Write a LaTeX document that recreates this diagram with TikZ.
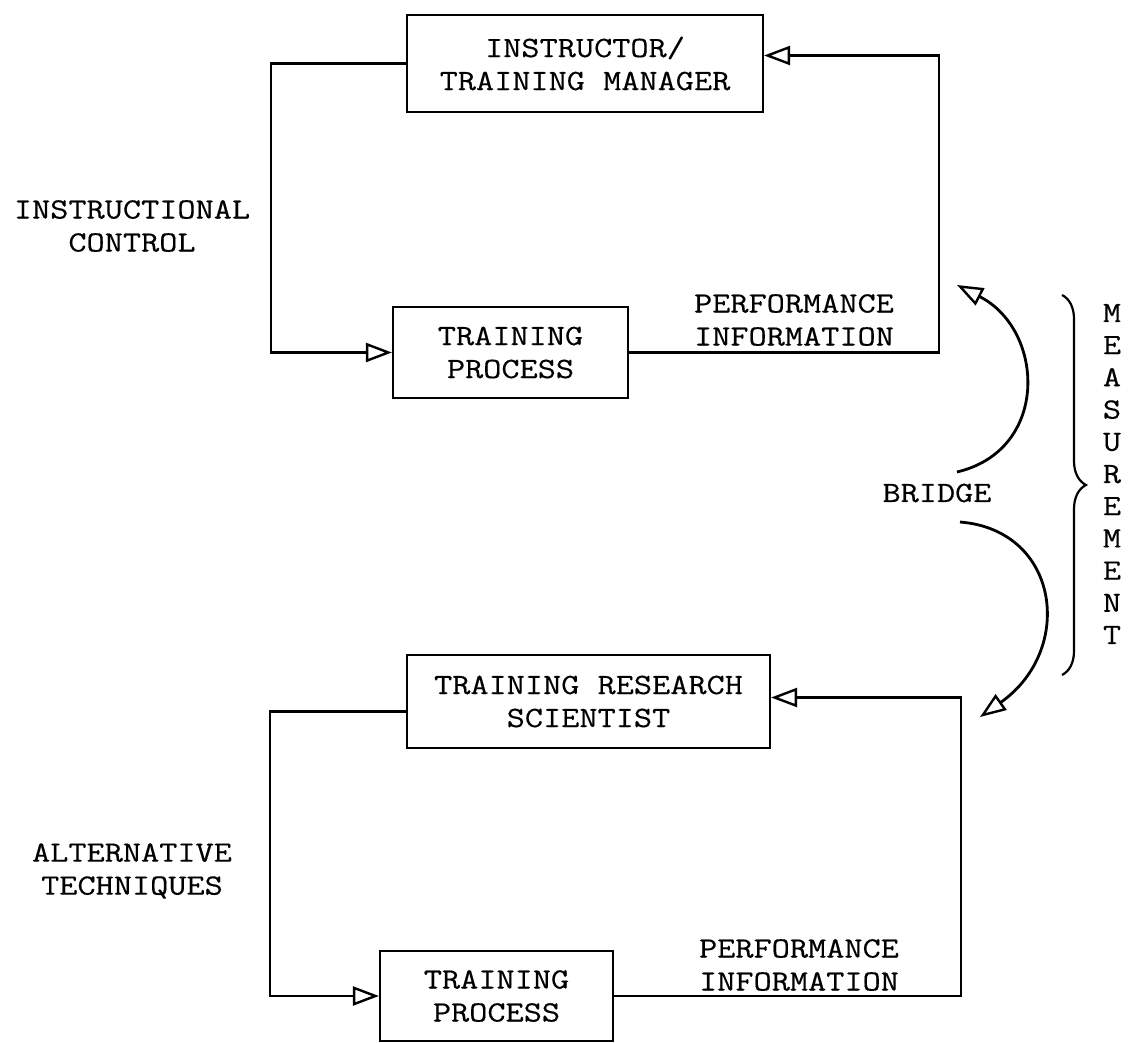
\documentclass[tikz,border=0pt]{standalone}
\usepackage{fontspec}
\setmonofont[FakeStretch=1.2,FakeBold=0.4]{Latin Modern Mono}
\usetikzlibrary{arrows.meta,decorations.pathreplacing,calc}
\begin{document}
\begin{tikzpicture}[x=0.5pt,y=-0.5pt,
  every node/.style={font=\ttfamily\fontsize{14.7pt}{16.5pt}\selectfont, inner sep=0pt},
  box/.style={draw, line width=1.1pt, align=center},
  conn/.style={line width=1.1pt},
  arcline/.style={line width=1.4pt},
  openarrow/.style={-{Triangle[open,length=13pt,width=9.5pt,line width=1.2pt]}},
  lbl/.style={align=center}]
\useasboundingbox (0,0) rectangle (1131,1043);

% boxes
\node[box, minimum width=178pt, minimum height=48.5pt] (mgr) at (585,63.5) {INSTRUCTOR/\\TRAINING MANAGER};
\node[box, minimum width=117.5pt, minimum height=45.5pt] (tp1) at (510.5,352.5) {TRAINING\\PROCESS};
\node[box, minimum width=181.5pt, minimum height=46.5pt] (trs) at (588.5,701.5) {TRAINING RESEARCH\\SCIENTIST};
\node[box, minimum width=116.5pt, minimum height=45pt] (tp2) at (496.5,996) {TRAINING\\PROCESS};

% labels
\node[lbl] (ic) at (132,226) {INSTRUCTIONAL\\CONTROL};
\node[lbl] (pi1) at (794,320) {PERFORMANCE\\INFORMATION};
\node[lbl] (pi2) at (799,965) {PERFORMANCE\\INFORMATION};
\node[lbl] (alt) at (132,871) {ALTERNATIVE\\TECHNIQUES};
\node (bridge) at (937,493) {BRIDGE};
\node[lbl, font=\ttfamily\fontsize{14.7pt}{16.1pt}\selectfont] (meas) at (1112,474) {M\\E\\A\\S\\U\\R\\E\\M\\E\\N\\T};

% upper loop
\draw[conn,openarrow] (mgr.west) -| ([xshift=-60.5pt]tp1.west) -- (tp1.west);
\draw[conn,openarrow] (tp1.east) -| ([xshift=87.5pt,yshift=4pt]mgr.east) -- ([yshift=4pt]mgr.east);

% lower loop
\draw[conn,openarrow] ([yshift=-5pt]trs.west) -| ([xshift=-54.5pt]tp2.west) -- (tp2.west);
\draw[conn,openarrow] (tp2.east) -| ([xshift=95pt,yshift=2pt]trs.east) -- ([yshift=2pt]trs.east);

% bridge arcs
\coordinate (ua) at (957,472);
\coordinate (ub) at (957,285);
\coordinate (la) at (960,522);
\coordinate (lb) at (980,717);
\draw[arcline,openarrow] (ua) .. controls (1050,450) and (1045,330) .. (ub);
\draw[arcline,openarrow] (la) .. controls (1060,530) and (1075,650) .. (lb);

% measurement brace
\coordinate (bt) at (1062,295);
\coordinate (bb) at (1062,675);
\draw[conn, decorate, decoration={brace,amplitude=12pt}] (bt) -- (bb);
\end{tikzpicture}
\end{document}
